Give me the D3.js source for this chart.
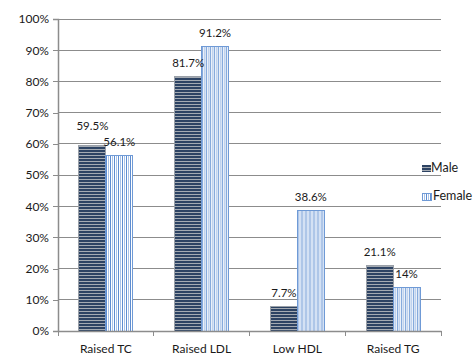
<!DOCTYPE html>
<html>
<head>
<meta charset="utf-8">
<script src="https://cdn.jsdelivr.net/npm/d3@7"></script>
<style>
  html, body { margin: 0; padding: 0; background: #fff; }
  svg { display: block; font-family: Lato, "Liberation Sans", sans-serif; }
</style>
</head>
<body>
<svg id="chart" width="475" height="355"></svg>
<script>
// Prevalence of lipid abnormalities by sex
const categories = ["Raised TC", "Raised LDL", "Low HDL", "Raised TG"];
const seriesNames = ["Male", "Female"];
const maleValues = [59.5, 81.7, 7.7, 21.1];
const femaleValues = [56.1, 91.2, 38.6, 14];
const valueLabels = [["59.5%", "81.7%", "7.7%", "21.1%"], ["56.1%", "91.2%", "38.6%", "14%"]];
const yTicks = [0, 10, 20, 30, 40, 50, 60, 70, 80, 90, 100];

const svg = d3.select("#chart");
const margin = { left: 58, right: 34, top: 19, bottom: 24 };
const W = 475, H = 355;

const x = d3.scaleBand().domain(categories)
  .range([margin.left, W - margin.right]).paddingInner(0).paddingOuter(0);
const inner = d3.scaleBand().domain(seriesNames)
  .range([0, x.bandwidth()]).paddingInner(0).paddingOuter(0.78);
const y = d3.scaleLinear().domain([0, 100]).range([H - margin.bottom, margin.top]);

// fill patterns
const defs = svg.append("defs");
const pm = defs.append("pattern").attr("id", "pMale")
  .attr("patternUnits", "userSpaceOnUse").attr("width", 6).attr("height", 3);
pm.append("rect").attr("width", 6).attr("height", 3).attr("fill", "#a4aab2");
pm.append("rect").attr("width", 6).attr("height", 2).attr("fill", "#2d4363");

const pf = defs.append("pattern").attr("id", "pFemale")
  .attr("patternUnits", "userSpaceOnUse").attr("width", 4).attr("height", 6);
pf.append("rect").attr("width", 4).attr("height", 6).attr("fill", "#ffffff");
pf.append("rect").attr("x", 0).attr("width", 1).attr("height", 6).attr("fill", "#5e8dd0");
pf.append("rect").attr("x", 2).attr("width", 1).attr("height", 6).attr("fill", "#a9c3e8");

// gridlines
svg.append("g").selectAll("line").data(yTicks.filter(t => t > 0)).join("line")
  .attr("x1", margin.left).attr("x2", W - margin.right)
  .attr("y1", d => y(d)).attr("y2", d => y(d))
  .attr("stroke", "#8c8c8c").attr("stroke-width", 1)
  .attr("shape-rendering", "crispEdges");

// y axis
const yAxis = d3.axisLeft(y).tickValues(yTicks).tickFormat(d => d + "%").tickSize(5).tickPadding(4);
const gy = svg.append("g").attr("transform", `translate(${margin.left},0)`).call(yAxis);
gy.select(".domain").attr("stroke", "#8c8c8c").attr("stroke-width", 1.5);
gy.selectAll(".tick line").attr("stroke", "#8c8c8c").attr("shape-rendering", "crispEdges");
gy.selectAll(".tick text").attr("font-size", 12).attr("fill", "#1a1a1a")
  .attr("font-family", "Lato, 'Liberation Sans', sans-serif");

// bars
const data = categories.map((c, i) => ({ cat: c, i, vals: [maleValues[i], femaleValues[i]] }));
const groups = svg.append("g").selectAll("g").data(data).join("g")
  .attr("transform", d => `translate(${x(d.cat)},0)`);

groups.selectAll("rect").data(d => d.vals.map((v, k) => ({ v, k }))).join("rect")
  .attr("x", d => inner(seriesNames[d.k]))
  .attr("width", inner.bandwidth())
  .attr("y", d => y(d.v))
  .attr("height", d => y(0) - y(d.v))
  .attr("fill", d => d.k === 0 ? "url(#pMale)" : "url(#pFemale)")
  .attr("stroke", d => d.k === 0 ? "#9aa0a8" : "#6f9ad6")
  .attr("stroke-width", 1)
  .attr("shape-rendering", "crispEdges");

// value labels, nudging a male label up when it would collide with its neighbour
groups.each(function (d) {
  const g = d3.select(this);
  const ly = d.vals.map(v => y(v) - 9.5);
  if (Math.abs(ly[0] - ly[1]) < 13) {
    if (ly[0] <= ly[1]) ly[0] = ly[1] - 16; else ly[1] = ly[0] - 16;
  }
  d.vals.forEach((v, k) => {
    g.append("text")
      .attr("x", inner(seriesNames[k]) + inner.bandwidth() / 2)
      .attr("y", ly[k])
      .attr("text-anchor", "middle")
      .attr("font-size", 11.5)
      .attr("fill", "#1a1a1a")
      .text(valueLabels[k][d.i]);
  });
});

// x axis
const xAxis = d3.axisBottom(x).tickSize(0).tickPadding(13);
const gx = svg.append("g").attr("transform", `translate(0,${y(0)})`).call(xAxis);
gx.select(".domain").attr("stroke", "#8c8c8c").attr("stroke-width", 1.5);
gx.selectAll(".tick text").attr("font-size", 12).attr("fill", "#1a1a1a")
  .attr("font-family", "Lato, 'Liberation Sans', sans-serif");
// category boundary ticks
const bounds = categories.map(c => x(c)).concat([x(categories[categories.length - 1]) + x.bandwidth()]);
svg.append("g").selectAll("line").data(bounds).join("line")
  .attr("x1", d => d).attr("x2", d => d)
  .attr("y1", y(0)).attr("y2", y(0) + 5)
  .attr("stroke", "#8c8c8c").attr("shape-rendering", "crispEdges");

// legend
const legend = svg.append("g").attr("transform", "translate(422,0)");
const legY = [172, 200];
seriesNames.forEach((name, k) => {
  legend.append("rect")
    .attr("x", 0).attr("y", legY[k] - 7).attr("width", 9).attr("height", 7)
    .attr("fill", k === 0 ? "url(#pMale)" : "url(#pFemale)")
    .attr("stroke", k === 0 ? "none" : "#6f9ad6")
    .attr("shape-rendering", "crispEdges");
  legend.append("text")
    .attr("x", k === 0 ? 9 : 11).attr("y", legY[k])
    .attr("font-size", 12.5).attr("fill", "#1a1a1a")
    .text(name);
});
</script>
</body>
</html>
